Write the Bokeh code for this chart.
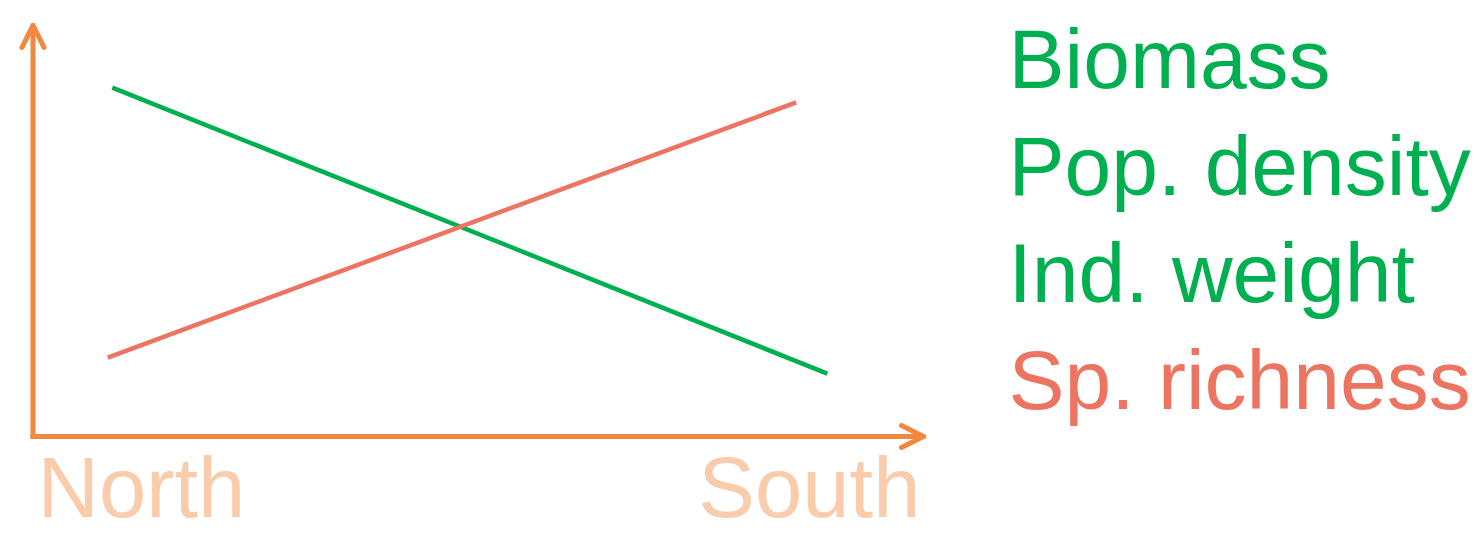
from bokeh.plotting import figure
from bokeh.models import Range1d, Arrow, OpenHead, Label
from bokeh.embed import file_html
from bokeh.resources import INLINE

# ---- data (schematic trends, arbitrary units 0..10) ----
regions = ["North", "South"]
decreasing_x = [0.89, 8.92]
decreasing_y = [8.49, 1.53]      # Biomass / Pop. density / Ind. weight
increasing_x = [0.84, 8.57]
increasing_y = [1.92, 8.13]      # Sp. richness
green_names = ["Biomass", "Pop. density", "Ind. weight"]
red_names = ["Sp. richness"]
axis_max = 10

GREEN = "#00B050"
RED = "#EC7460"
ORANGE = "#F3873F"
PEACH = "#F9CCAC"
FONT = "Liberation Sans"

W, H = 1476, 537
p = figure(width=W, height=H, output_backend="svg", toolbar_location=None,
           x_range=Range1d(-0.365, 16.21), y_range=Range1d(-2.457, 10.608),
           min_border=0)
p.axis.visible = False
p.grid.visible = False
p.outline_line_color = None
p.background_fill_color = "white"
p.border_fill_color = "white"

# axes with open arrow heads
for (x1, y1) in [(axis_max, 0), (0, axis_max)]:
    p.add_layout(Arrow(x_start=0, y_start=0, x_end=x1, y_end=y1,
                       line_color=ORANGE, line_width=5, line_cap="square",
                       end=OpenHead(size=22, line_color=ORANGE, line_width=5,
                                    line_join="round", line_cap="round")))

p.line(decreasing_x, decreasing_y, line_color=GREEN, line_width=4.5)
p.line(increasing_x, increasing_y, line_color=RED, line_width=4.5)

# region labels under the x axis
p.add_layout(Label(x=37, y=50, x_units="screen", y_units="screen",
                   text=regions[0], text_font=FONT, text_font_size="85px",
                   text_color=PEACH, text_align="left", text_baseline="alphabetic"))
p.add_layout(Label(x=920, y=50, x_units="screen", y_units="screen",
                   text=regions[1], text_font=FONT, text_font_size="85px",
                   text_color=PEACH, text_align="right", text_baseline="alphabetic"))

# legend-like list on the right
names = green_names + red_names
colors = [GREEN] * len(green_names) + [RED] * len(red_names)
for i, (nm, c) in enumerate(zip(names, colors)):
    p.add_layout(Label(x=1008, y=479 - i * 107, x_units="screen", y_units="screen",
                       text=nm, text_font=FONT, text_font_size="84px",
                       text_color=c, text_align="left", text_baseline="alphabetic"))

open("out.html", "w").write(file_html(p, INLINE))
